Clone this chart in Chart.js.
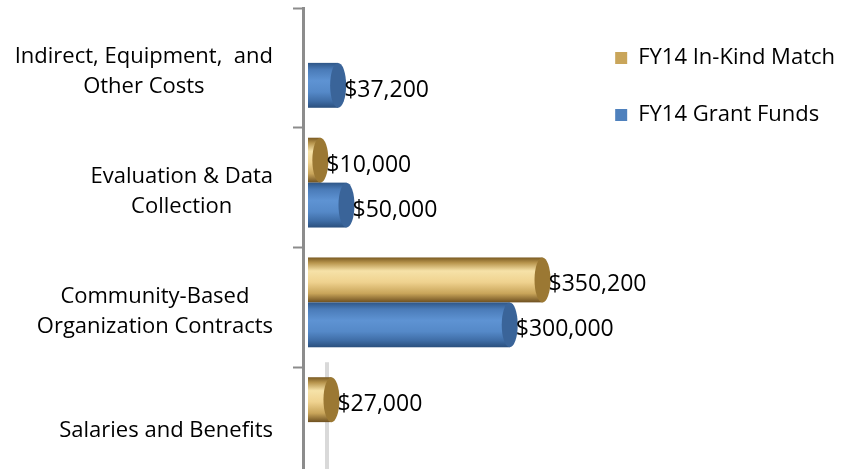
<!DOCTYPE html>
<html>
<head>
<meta charset="utf-8">
<script src="https://cdn.jsdelivr.net/npm/chart.js@4.4.1/dist/chart.umd.min.js"></script>
<style>
    html, body { margin: 0; padding: 0; background: #fff; overflow: hidden; }
    #wrap { width: 845px; height: 490px; position: relative; }
</style>
</head>
<body>
<div id="wrap"><canvas id="bar_chart"></canvas></div>
<script>
// chart data
var categories = [
    ["Indirect, Equipment,  and", "Other Costs"],
    ["Evaluation & Data", "Collection"],
    ["Community-Based", "Organization Contracts"],
    ["Salaries and Benefits"]
];
var seriesNames = ["FY14 In-Kind Match", "FY14 Grant Funds"];
var inKindMatch = [null, 10000, 350200, 27000];
var grantFunds = [37200, 50000, 300000, null];

var FONT = "Open Sans";
var capRx = 8;
var lift = 5; // 3d depth offset of the bars
var colors = ['#c9a55a', '#4f81bd'];

// cylinder shading, one set per dataset
var shades = [
    [[0, '#7a5a22'], [0.12, '#b8954d'], [0.3, '#f6e2a8'], [0.55, '#efd28f'], [0.8, '#c9a55a'], [1, '#6e5020']],
    [[0, '#2e5687'], [0.15, '#4a7bb8'], [0.4, '#5e93d3'], [0.65, '#5589c8'], [0.85, '#3f6da6'], [1, '#2a4f7d']]
];
var caps = ['#9b7833', '#3a6499'];

function money(v) {
    return '$' + v.toLocaleString('en-US');
}

var cylinders = {
    id: 'cylinders',
    beforeDatasetsDraw: function (chart) {
        // faint back wall line of the 3d floor
        var ctx = chart.ctx, area = chart.chartArea;
        var y0 = chart.scales.y.getPixelForValue(2.5) - 5;
        ctx.save();
        ctx.strokeStyle = '#d9d9d9';
        ctx.lineWidth = 4;
        ctx.beginPath();
        ctx.moveTo(area.left + 24, y0);
        ctx.lineTo(area.left + 24, area.bottom);
        ctx.stroke();
        ctx.restore();
    },
    afterDatasetsDraw: function (chart) {
        var ctx = chart.ctx;
        var start = chart.chartArea.left + 5;
        chart.data.datasets.forEach(function (ds, di) {
            var meta = chart.getDatasetMeta(di);
            meta.data.forEach(function (bar, i) {
                if (ds.data[i] == null) return;
                var h = bar.height, cy = bar.y - lift, top = cy - h / 2;
                var g = ctx.createLinearGradient(0, top, 0, top + h);
                shades[di].forEach(function (s) { g.addColorStop(s[0], s[1]); });
                ctx.save();
                ctx.fillStyle = g;
                ctx.fillRect(start, top, bar.x - start, h);
                ctx.beginPath();
                ctx.ellipse(bar.x, cy, capRx, h / 2, 0, 0, Math.PI * 2);
                ctx.fillStyle = caps[di];
                ctx.fill();
                ctx.restore();
            });
        });
    }
};

var textLabels = {
    id: 'textLabels',
    afterDraw: function (chart) {
        var ctx = chart.ctx;
        ctx.save();
        ctx.fillStyle = '#000';
        ctx.textBaseline = 'middle';

        // value labels
        ctx.font = '23px ' + FONT;
        ctx.textAlign = 'left';
        chart.data.datasets.forEach(function (ds, di) {
            chart.getDatasetMeta(di).data.forEach(function (bar, i) {
                if (ds.data[i] == null) return;
                ctx.fillText(money(ds.data[i]), bar.x + capRx - 2, bar.y);
            });
        });

        // category labels, lines centred inside a right aligned block
        ctx.font = '22px ' + FONT;
        var yScale = chart.scales.y;
        var right = yScale.left - 20;
        ctx.textAlign = 'center';
        categories.forEach(function (lines, i) {
            var mid = yScale.getPixelForTick(i) + 4;
            var w = 0;
            lines.forEach(function (l) { w = Math.max(w, ctx.measureText(l).width); });
            lines.forEach(function (l, j) {
                ctx.fillText(l, right - w / 2, mid + (j - (lines.length - 1) / 2) * 30);
            });
        });
        ctx.restore();
    }
};

new Chart(document.getElementById("bar_chart").getContext("2d"), {
    type: 'bar',
    data: {
        labels: categories,
        datasets: [{
            label: seriesNames[0],
            data: inKindMatch,
            backgroundColor: 'rgba(0,0,0,0)',
            borderWidth: 0
        }, {
            label: seriesNames[1],
            data: grantFunds,
            backgroundColor: 'rgba(0,0,0,0)',
            borderWidth: 0
        }]
    },
    options: {
        indexAxis: 'y',
        responsive: true,
        maintainAspectRatio: false,
        animation: false,
        layout: { padding: { left: 293, top: 8, bottom: 3, right: 0 } },
        datasets: { bar: { categoryPercentage: 0.75, barPercentage: 1 } },
        scales: {
            x: { display: false, min: -16600, max: 407900 },
            y: {
                grid: { offset: true, drawOnChartArea: false, tickLength: 10, tickColor: '#8c8c8c', tickWidth: 2 },
                border: { color: '#8c8c8c', width: 3 },
                ticks: { display: false }
            }
        },
        plugins: {
            legend: {
                position: 'right',
                align: 'start',
                maxWidth: 320,
                title: { display: true, text: '', padding: 0, font: { size: 4, lineHeight: 1 } },
                labels: {
                    font: { family: FONT, size: 22, lineHeight: 1 },
                    color: '#000',
                    boxWidth: 12,
                    boxHeight: 12,
                    padding: 35,
                    generateLabels: function (chart) {
                        var items = Chart.defaults.plugins.legend.labels.generateLabels(chart);
                        items.forEach(function (it, k) { it.fillStyle = colors[k]; it.strokeStyle = colors[k]; it.lineWidth = 0; });
                        return items;
                    }
                }
            },
            tooltip: { enabled: false }
        }
    },
    plugins: [cylinders, textLabels]
});
</script>
</body>
</html>
